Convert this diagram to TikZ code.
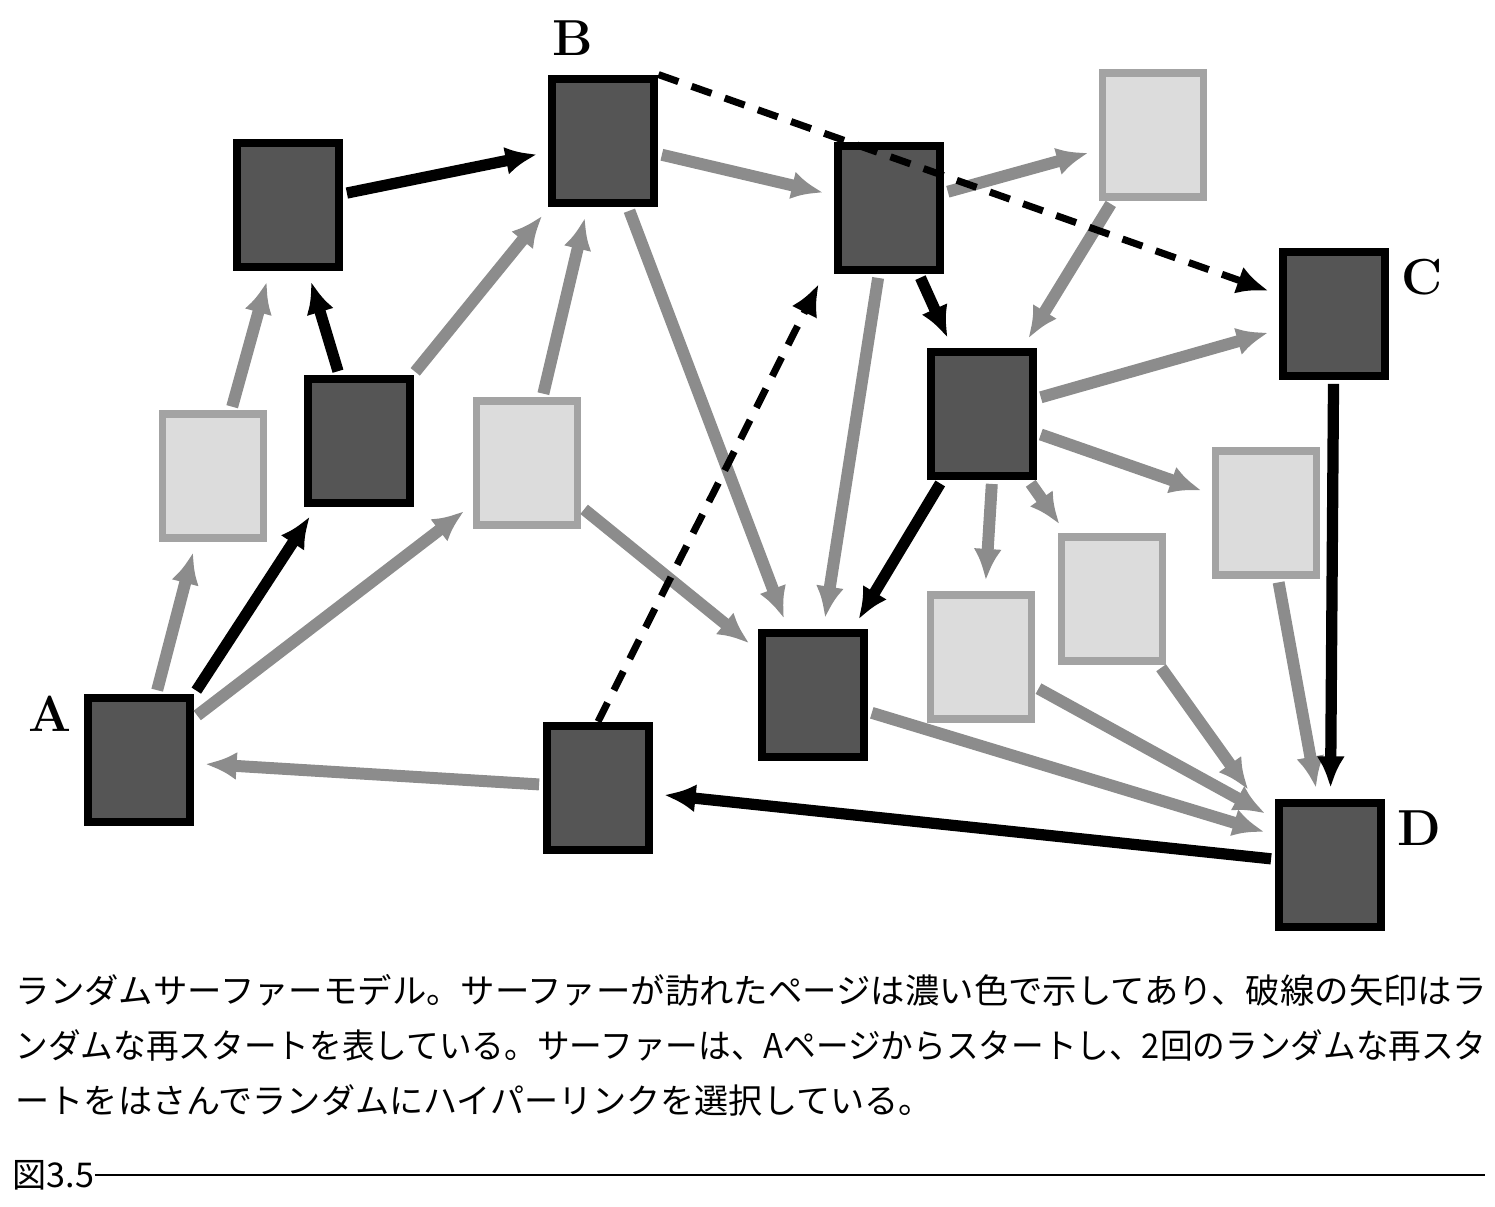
\documentclass[tikz,border=0pt]{standalone}
\usepackage{fontspec}
\newfontfamily\cjk{Noto Sans CJK JP}
\usetikzlibrary{arrows.meta}
\definecolor{pagedark}{HTML}{555555}
\definecolor{pagelight}{HTML}{DCDCDC}
\definecolor{linkgray}{HTML}{8C8C8C}
\tikzset{
  visited/.style={draw=black, line width=2.5pt, fill=pagedark, minimum width=1.02cm, minimum height=1.24cm, inner sep=0pt},
  unvisited/.style={draw=linkgray!80, line width=2.2pt, fill=pagelight, minimum width=1.01cm, minimum height=1.24cm, inner sep=0pt},
  walk/.style={->, line width=3.2pt, black, shorten >=3pt, shorten <=1pt},
  link/.style={->, line width=3.4pt, linkgray, shorten >=3pt, shorten <=1pt},
  jump/.style={->, line width=2pt, black, dash pattern=on 6pt off 4pt, shorten >=3pt},
  tag/.style={font=\bfseries\Large},
  caption/.style={anchor=west, font=\cjk\fontsize{9.7pt}{12pt}\selectfont, inner sep=0pt}
}
\newcommand{\fullline}[1]{\resizebox{14.7cm}{\height}{#1}}
\begin{document}
\begin{tikzpicture}[x=0.01cm, y=-0.01cm, >={Latex[length=9pt,width=8pt]}]
  \useasboundingbox (0,0) rectangle (1495,1206);

  % pages
  \node[visited] (A) at (139,760) {};
  \node[visited] (B) at (603,141) {};
  \node[visited] (P1) at (288,205) {};
  \node[visited] (P2) at (359,441) {};
  \node[unvisited] (L1) at (213,476) {};
  \node[unvisited] (L2) at (527,463) {};
  \node[visited] (E) at (889,208) {};
  \node[unvisited] (L3) at (1153,135) {};
  \node[visited] (C) at (1334,314) {};
  \node[visited] (F) at (982,414) {};
  \node[unvisited] (L4) at (1266,513) {};
  \node[unvisited] (L5) at (1112,599) {};
  \node[unvisited] (L6) at (981,657) {};
  \node[visited] (G) at (813,695) {};
  \node[visited] (H) at (598,788) {};
  \node[visited] (D) at (1330,865) {};

  % labels
  \node[tag, left=0pt] at ([yshift=-0.2cm]A.north west) {A};
  \node[tag, above=2pt] at ([xshift=0.25cm]B.north west) {B};
  \node[tag, right=0pt] at ([yshift=-0.3cm]C.north east) {C};
  \node[tag, right=0pt] at ([yshift=-0.3cm]D.north east) {D};

  % hyperlinks not followed
  \draw[link] (A) -- (L1);
  \draw[link] (A) -- (L2);
  \draw[link] (L1) -- (P1);
  \draw[link] (P2) -- (B);
  \draw[link] (L2) -- (B);
  \draw[link] (B) -- (E);
  \draw[link] (B) -- (G);
  \draw[link] (L2) -- (G);
  \draw[link] (H) -- (A);
  \draw[link] (E) -- (L3);
  \draw[link] (L3) -- (F);
  \draw[link] (E) -- (G);
  \draw[link] (F) -- (C);
  \draw[link] (F) -- (L4);
  \draw[link] (F) -- (L5);
  \draw[link] ([xshift=0.1cm]F.south) -- (L6);
  \draw[link] (G) -- ([yshift=0.3cm]D.west);
  \draw[link] (L6) -- ([yshift=-0.2cm]D.north west);
  \draw[link] (L5) -- ([xshift=-0.2cm]D.north west);
  \draw[link] (L4) -- (D);

  % random surfer path
  \draw[walk] (A.north east) -- (P2);
  \draw[walk] (P2) -- (P1);
  \draw[walk] (P1) -- (B);
  \draw[walk] (E) -- (F);
  \draw[walk] (F) -- (G);
  \draw[walk] (C) -- (D);
  \draw[walk] (D) -- (H);

  % random restarts
  \draw[jump] (B.north east) -- (C);
  \draw[jump] (H.north) -- ([xshift=-0.1cm]E.south west);

  % caption
  \node[caption] (t1) at (15,990) {\fullline{ランダムサーファーモデル。サーファーが訪れたページは濃い色で示してあり、破線の矢印はラ}};
  \node[caption] (t2) at (15,1045) {\fullline{ンダムな再スタートを表している。サーファーは、Aページからスタートし、2回のランダムな再スタ}};
  \node[caption] (t3) at (15,1100) {ートをはさんでランダムにハイパーリンクを選択している。};
  \node[caption] (fig) at (12,1175) {図3.5};
  \coordinate (rule) at (1485,1175);
  \draw[line width=0.6pt] (fig.east) -- (rule);
\end{tikzpicture}
\end{document}
